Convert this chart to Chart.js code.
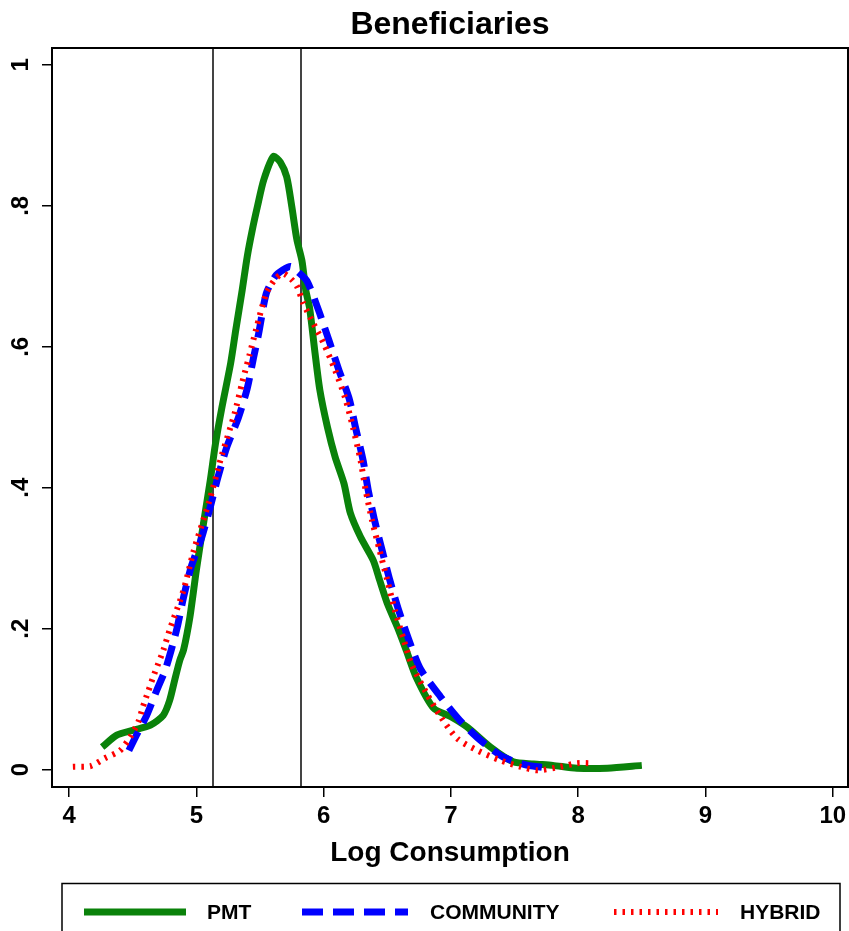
<!DOCTYPE html>
<html>
<head>
<meta charset="utf-8">
<title>Beneficiaries</title>
<script src="https://cdn.jsdelivr.net/npm/chart.js@4.4.1/dist/chart.umd.min.js"></script>
<style>
  html, body { margin: 0; padding: 0; background: #fff; }
</style>
</head>
<body>
<canvas id="densityChart" width="849" height="931"></canvas>
<script>
// kernel density curves, [log consumption, density]
const pmt = [
  [4.26, 0.032], [4.375, 0.049], [4.505, 0.056], [4.64, 0.063], [4.74, 0.077],
  [4.79, 0.098], [4.83, 0.127], [4.87, 0.155], [4.90, 0.17], [4.95, 0.217],
  [5.00, 0.283], [5.056, 0.349], [5.11, 0.411], [5.15, 0.462], [5.20, 0.513],
  [5.27, 0.577], [5.31, 0.624], [5.36, 0.68], [5.40, 0.728], [5.44, 0.766],
  [5.48, 0.799], [5.53, 0.837], [5.606, 0.870], [5.66, 0.862], [5.71, 0.841],
  [5.75, 0.799], [5.79, 0.752], [5.83, 0.722], [5.86, 0.68], [5.89, 0.655],
  [5.93, 0.595], [5.97, 0.539], [6.03, 0.486], [6.09, 0.444], [6.16, 0.406],
  [6.21, 0.364], [6.29, 0.330], [6.39, 0.297], [6.44, 0.269], [6.50, 0.236],
  [6.58, 0.202], [6.65, 0.169], [6.73, 0.130], [6.865, 0.087], [7.00, 0.075],
  [7.13, 0.060], [7.31, 0.032], [7.49, 0.011], [7.65, 0.008], [7.80, 0.006],
  [7.99, 0.002], [8.23, 0.002], [8.50, 0.006]
];
const community = [
  [4.47, 0.027], [4.53, 0.049], [4.61, 0.077], [4.69, 0.113], [4.755, 0.141],
  [4.80, 0.168], [4.85, 0.202], [4.90, 0.245], [4.96, 0.288], [5.04, 0.328],
  [5.11, 0.373], [5.17, 0.415], [5.24, 0.458], [5.33, 0.499], [5.40, 0.541],
  [5.45, 0.585], [5.49, 0.619], [5.55, 0.676], [5.62, 0.70], [5.68, 0.709],
  [5.74, 0.714], [5.80, 0.706], [5.87, 0.693], [5.96, 0.652], [6.04, 0.61],
  [6.12, 0.567], [6.20, 0.527], [6.25, 0.486], [6.31, 0.439], [6.35, 0.397],
  [6.40, 0.354], [6.46, 0.311], [6.52, 0.269], [6.59, 0.226], [6.67, 0.184],
  [6.76, 0.143], [6.92, 0.103], [7.07, 0.07], [7.23, 0.042], [7.41, 0.018],
  [7.58, 0.007], [7.72, 0.003]
];
const hybrid = [
  [4.03, 0.004], [4.17, 0.005], [4.28, 0.016], [4.40, 0.027], [4.48, 0.046],
  [4.545, 0.068], [4.58, 0.089], [4.62, 0.11], [4.66, 0.131], [4.70, 0.15],
  [4.74, 0.169], [4.79, 0.198], [4.90, 0.255], [4.98, 0.311], [5.10, 0.38],
  [5.20, 0.446], [5.30, 0.505], [5.36, 0.549], [5.42, 0.59], [5.47, 0.625],
  [5.55, 0.676], [5.62, 0.696], [5.68, 0.704], [5.74, 0.697], [5.79, 0.686],
  [5.84, 0.662], [5.92, 0.633], [6.00, 0.605], [6.09, 0.567], [6.17, 0.527],
  [6.23, 0.486], [6.29, 0.439], [6.33, 0.397], [6.38, 0.354], [6.44, 0.311],
  [6.50, 0.269], [6.56, 0.226], [6.63, 0.184], [6.69, 0.15], [6.81, 0.108],
  [6.92, 0.075], [7.05, 0.044], [7.21, 0.027], [7.39, 0.013], [7.55, 0.004],
  [7.68, -0.001], [7.86, 0.004], [7.99, 0.009], [8.12, 0.009]
];
const seriesNames = ['PMT', 'COMMUNITY', 'HYBRID'];
const xTicks = [4, 5, 6, 7, 8, 9, 10];
const yTicks = [0, 0.2, 0.4, 0.6, 0.8, 1];
const cutoffs = [5.134, 5.824];

const FONT = "'Liberation Sans', Arial, Helvetica, sans-serif";

const toPoints = arr => arr.map(p => ({ x: p[0], y: p[1] }));
const stataNum = v => (v === 0 || v === 1) ? String(v) : String(Math.round(v * 10) / 10).replace(/^0\./, '.');

// the two vertical reference lines, behind the curves
const cutoffLines = {
    id: 'cutoffLines',
    beforeDatasetsDraw(chart) {
        const { ctx, chartArea, scales } = chart;
        ctx.save();
        ctx.strokeStyle = '#444';
        ctx.lineWidth = 2;
        cutoffs.forEach(v => {
            const px = Math.round(scales.x.getPixelForValue(v));
            ctx.beginPath();
            ctx.moveTo(px, chartArea.top);
            ctx.lineTo(px, chartArea.bottom);
            ctx.stroke();
        });
        ctx.restore();
    }
};

// closed box round the plot region
const plotFrame = {
    id: 'plotFrame',
    afterDraw(chart) {
        const { ctx, chartArea } = chart;
        ctx.save();
        ctx.strokeStyle = '#000';
        ctx.lineWidth = 2;
        ctx.strokeRect(chartArea.left, chartArea.top, chartArea.right - chartArea.left, chartArea.bottom - chartArea.top);
        ctx.restore();
    }
};

// Stata style legend in a box under the plot
const boxLegend = {
    id: 'boxLegend',
    afterDraw(chart) {
        const ctx = chart.ctx;
        const keys = [
            { x0: 84, x1: 186, tx: 207 },
            { x0: 302, x1: 408, tx: 430 },
            { x0: 614, x1: 718, tx: 740 }
        ];
        const ky = 912;
        ctx.save();
        ctx.strokeStyle = '#000';
        ctx.lineWidth = 1.5;
        ctx.strokeRect(62, 883.5, 778, 80);
        chart.data.datasets.forEach((ds, i) => {
            const k = keys[i];
            ctx.beginPath();
            ctx.strokeStyle = ds.borderColor;
            ctx.lineWidth = ds.borderWidth;
            ctx.lineCap = 'butt';
            ctx.setLineDash(ds.borderDash || []);
            ctx.moveTo(k.x0, ky);
            ctx.lineTo(k.x1, ky);
            ctx.stroke();
            ctx.setLineDash([]);
            ctx.fillStyle = '#000';
            ctx.font = 'bold 21px ' + FONT;
            ctx.textBaseline = 'middle';
            ctx.textAlign = 'left';
            ctx.fillText(ds.label, k.tx, ky + 1);
        });
        ctx.restore();
    }
};

const ctx = document.getElementById('densityChart').getContext('2d');
new Chart(ctx, {
    type: 'scatter',
    data: {
        datasets: [
            {
                label: seriesNames[0],
                data: toPoints(pmt),
                borderColor: '#0a820a',
                borderWidth: 7,
                order: 3
            },
            {
                label: seriesNames[1],
                data: toPoints(community),
                borderColor: '#0000ff',
                borderWidth: 7,
                borderDash: [21, 10],
                order: 2
            },
            {
                label: seriesNames[2],
                data: toPoints(hybrid),
                borderColor: '#ff0000',
                borderWidth: 6,
                borderDash: [2.5, 6],
                order: 1
            }
        ].map(ds => Object.assign(ds, {
            showLine: true,
            fill: false,
            pointRadius: 0,
            pointHoverRadius: 0,
            tension: 0.25,
            borderCapStyle: 'butt'
        }))
    },
    options: {
        responsive: false,
        animation: false,
        events: [],
        layout: { padding: { top: 0, right: 1, bottom: 61, left: 0 } },
        plugins: {
            legend: { display: false },
            tooltip: { enabled: false }
        },
        scales: {
            // top axis only carries the graph title, centred over the plot region
            top: {
                type: 'linear',
                position: 'top',
                min: 3.866,
                max: 10.12,
                afterFit: scale => { scale.height = 48; },
                ticks: { display: false },
                grid: { display: false, drawTicks: false },
                border: { display: false },
                title: {
                    display: true,
                    text: 'Beneficiaries',
                    color: '#000',
                    font: { family: FONT, size: 32, weight: 'bold', lineHeight: 1.2 },
                    padding: { top: 6, bottom: 0 }
                }
            },
            x: {
                type: 'linear',
                position: 'bottom',
                min: 3.866,
                max: 10.12,
                afterBuildTicks: scale => { scale.ticks = xTicks.map(v => ({ value: v })); },
                afterFit: scale => {
                    scale.height = 83;
                    scale.paddingRight = 0;
                    scale.paddingLeft = 0;
                },
                ticks: {
                    color: '#000',
                    font: { family: FONT, size: 24, weight: 'bold' },
                    padding: 5,
                    maxRotation: 0,
                    minRotation: 0,
                    callback: v => String(v)
                },
                grid: { drawOnChartArea: false, drawTicks: true, tickLength: 10, color: '#000', lineWidth: 1.5 },
                border: { display: true, color: '#000', width: 2 },
                title: {
                    display: true,
                    text: 'Log Consumption',
                    color: '#000',
                    font: { family: FONT, size: 28, weight: 'bold' },
                    padding: { top: 0, bottom: 0 }
                }
            },
            y: {
                type: 'linear',
                min: -0.0247,
                max: 1.024,
                afterBuildTicks: scale => { scale.ticks = yTicks.map(v => ({ value: v })); },
                afterFit: scale => { scale.width = 52; },
                ticks: {
                    color: '#000',
                    font: { family: FONT, size: 24, weight: 'bold' },
                    minRotation: 90,
                    maxRotation: 90,
                    crossAlign: 'center',
                    padding: 11,
                    callback: v => stataNum(v)
                },
                grid: { drawOnChartArea: false, drawTicks: true, tickLength: 10, color: '#000', lineWidth: 1.5 },
                border: { display: true, color: '#000', width: 2 }
            }
        }
    },
    plugins: [cutoffLines, plotFrame, boxLegend]
});
</script>
</body>
</html>
